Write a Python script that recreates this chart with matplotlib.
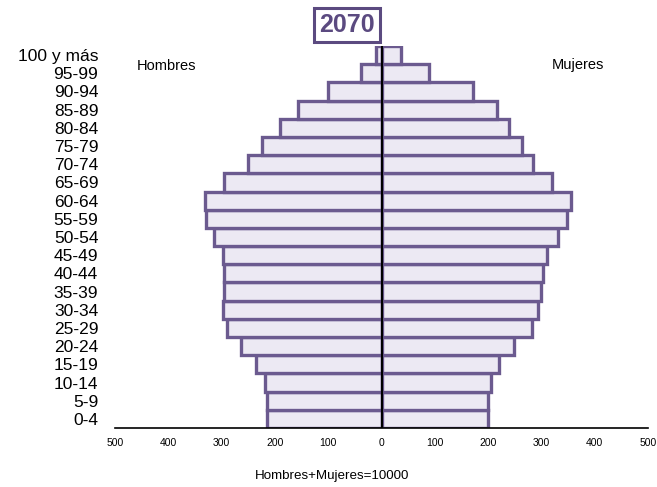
import matplotlib
matplotlib.use("Agg")
import matplotlib.pyplot as plt
import numpy as np

ages = ["0-4", "5-9", "10-14", "15-19", "20-24", "25-29", "30-34", "35-39",
        "40-44", "45-49", "50-54", "55-59", "60-64", "65-69", "70-74",
        "75-79", "80-84", "85-89", "90-94", "95-99", "100 y más"]
hombres = [214, 214, 219, 236, 263, 289, 298, 296, 296, 298, 315, 330, 332,
           295, 251, 225, 191, 156, 101, 39, 11]
mujeres = [200, 200, 206, 221, 249, 283, 294, 300, 303, 311, 331, 348, 356,
           320, 285, 264, 240, 217, 172, 90, 36]
xticks = [-500, -400, -300, -200, -100, 0, 100, 200, 300, 400, 500]

face = "#ece9f3"
edge = "#6b5a8f"

fig = plt.figure(figsize=(6.57, 4.87), dpi=100)
ax = fig.add_axes([115/657, 1-428/487, (648-115)/657, (428-46)/487])

y = np.arange(len(ages))
ax.barh(y, [-v for v in hombres], height=1.0, color=face, edgecolor=edge, linewidth=2.4)
ax.barh(y, mujeres, height=1.0, color=face, edgecolor=edge, linewidth=2.4)
ax.axvline(0, color="black", linewidth=1.5, zorder=5)

ax.set_xlim(-500, 500)
ax.set_ylim(-0.5, len(ages) - 0.5)
ax.set_yticks(y)
ax.set_yticklabels(ages, fontsize=12.5, fontfamily="Liberation Sans")
ax.set_xticks(xticks)
ax.set_xticklabels([str(abs(t)) for t in xticks], fontsize=7.5, fontfamily="Liberation Sans")
ax.tick_params(axis="both", length=0)
ax.tick_params(axis="y", pad=12)
ax.tick_params(axis="x", pad=7)
for s in ["top", "right", "left"]:
    ax.spines[s].set_visible(False)
ax.spines["bottom"].set_linewidth(1.2)
ax.spines["bottom"].set_color("black")

fig.text(166/657, 1-66/487, "Hombres", fontsize=10.5, ha="center", va="center",
         fontfamily="Liberation Sans")
fig.text(578/657, 1-65/487, "Mujeres", fontsize=10.5, ha="center", va="center",
         fontfamily="Liberation Sans")
fig.text(332/657, 1-476/487, "Hombres+Mujeres=10000", fontsize=9.6, ha="center",
         va="center", fontfamily="Liberation Sans")
fig.text(347/657, 1-25/487, "2070", fontsize=18, fontweight="bold", color="#5b4a80",
         ha="center", va="center", fontfamily="Liberation Sans",
         bbox=dict(boxstyle="square,pad=0.2", facecolor="white", edgecolor="#5b4a80",
                   linewidth=2.2))

fig.savefig("out.png", dpi=100)
